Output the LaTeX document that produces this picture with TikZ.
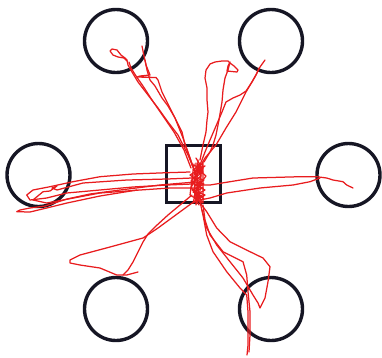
\documentclass[tikz,border=0pt]{standalone}
\usepackage{tikz}
\definecolor{ringcol}{RGB}{22,22,36}
\definecolor{trackred}{RGB}{232,28,30}
\tikzset{
  ring/.style={circle,draw=ringcol,line width=3.4pt,minimum size=63pt,inner sep=0pt},
  startbox/.style={rectangle,draw=ringcol,line width=3.2pt,minimum width=54pt,minimum height=57pt,inner sep=0pt},
  track/.style={draw=trackred,line width=1.25pt,line join=round,line cap=round}
}
\begin{document}
\begin{tikzpicture}[x=1pt,y=-1pt]
\useasboundingbox (0,0) rectangle (382,357);
% targets
\node[ring] (tl) at (116,41) {};
\node[ring] (tr) at (271,41) {};
\node[ring] (ml) at (38.5,175) {};
\node[ring] (mr) at (348.5,175) {};
\node[ring] (bl) at (116,309) {};
\node[ring] (br) at (271,309) {};
\node[startbox] (sq) at (193.5,174) {};
% tracks: top-left
\draw[track] (193,167) -- (188,155) -- (183,145) -- (178,135) -- (168,122) -- (158,108) -- (148,95) -- (138,82) -- (132,72) -- (128,65) -- (127,60) -- (125,58) -- (121,55) -- (117,50) -- (112,49) -- (110,51) -- (113,55) -- (118,57) -- (124,58) -- (127,61) -- (128,64);
\draw[track] (196,175) -- (190,158) -- (185,145) -- (182,132) -- (176,120) -- (172,112) -- (166,100) -- (162,92) -- (158,80) -- (156,77.5) -- (137,77) -- (140,76) -- (150,75) -- (146,65) -- (144,56) -- (142,46);
\draw[track] (194,170) -- (188,152) -- (183,138) -- (175,118) -- (168,106) -- (162,98) -- (155,86) -- (150,80) -- (147,70) -- (145,60);
\draw[track] (191,168) -- (184,150) -- (174,132) -- (163,116) -- (152,100) -- (143,86) -- (136,76) -- (131,68) -- (129,62);
% top-right
\draw[track] (195,178) -- (200,165) -- (205,152) -- (210,140) -- (216,126) -- (222,112) -- (226,102) -- (233,98) -- (240,95) -- (246,91) -- (252,82) -- (257,73) -- (260,67) -- (265,60);
\draw[track] (197,172) -- (205,158) -- (216,145) -- (226,128) -- (236,112) -- (246,92) -- (256,75) -- (259,68);
% top loop
\draw[track] (200,160) -- (203,145) -- (206,132) -- (207,120) -- (208,112) -- (207,100) -- (207,88) -- (205,78) -- (206,70) -- (210,64) -- (215,62) -- (222,61) -- (228,61) -- (230,63) -- (234,66) -- (238,70) -- (237,72) -- (227,71) -- (228,66) -- (230,62) -- (228,70) -- (225,78) -- (223,90) -- (222,102) -- (219,120) -- (216,135) -- (213,145) -- (210,152) -- (204,162);
% centre cluster
\draw[track] (196,158) -- (200,165) -- (193,170) -- (203,172) -- (194,178) -- (204,180) -- (195,185) -- (203,188) -- (193,192) -- (202,196) -- (196,200) -- (199,205) -- (194,196) -- (205,190) -- (192,183) -- (201,176) -- (197,168) -- (205,166) -- (190,175) -- (200,182) -- (196,192) -- (202,202);
\draw[track] (198,160) -- (197,180) -- (199,200) -- (201,180) -- (200,163) -- (194,175) -- (195,198);
\draw[track] (192,165) -- (203,168) -- (191,181) -- (204,184) -- (192,190) -- (205,195) -- (193,203) -- (197,188) -- (206,176) -- (199,170) -- (191,188) -- (204,199);
\draw[track] (196,163) -- (196,205) -- (203,162) -- (203,203) -- (190,195) -- (194,164);
% left
\draw[track] (190,172) -- (167,172.7) -- (133,174) -- (100,176.7) -- (73,181.7) -- (50,186.7) -- (33,190) -- (26.7,195) -- (30,200) -- (46.7,198) -- (66.7,193) -- (100,190) -- (133,187) -- (167,185) -- (192,184);
\draw[track] (192,178) -- (167,179) -- (127,180) -- (83,183) -- (57,190) -- (52,188) -- (57,186) -- (50,191) -- (43,191.7) -- (33,200) -- (46.7,203) -- (63,200) -- (100,193) -- (140,190) -- (170,188) -- (195,188);
\draw[track] (195,182) -- (160,185) -- (120,190) -- (90,194) -- (67,199) -- (45,206) -- (30,208) -- (20,210) -- (16.7,211.7) -- (30,212) -- (46.7,208) -- (67,203) -- (100,196) -- (137,190);
% right
\draw[track] (195,185) -- (210,185) -- (230,181.7) -- (253,178) -- (300,176.7) -- (316.7,176.7) -- (326.7,178) -- (333,180) -- (343,181.7) -- (346.7,185) -- (353,188);
\draw[track] (200,200) -- (210,198) -- (226.7,193) -- (260,188) -- (293,185) -- (310,181.7) -- (320,178);
% bottom-left
\draw[track] (199,198) -- (188,206) -- (173,217) -- (158,228) -- (143,238) -- (110,247) -- (80,255) -- (70,260) -- (70,263) -- (80,265) -- (100,268) -- (116.7,275) -- (126.7,275) -- (138,272);
\draw[track] (192,195) -- (180,205) -- (168,215) -- (156,226) -- (148,234) -- (143,242) -- (138,252) -- (133,262) -- (128,270) -- (123,275);
% bottom-right
\draw[track] (200,201.7) -- (203,215) -- (206.7,235) -- (213,251.7) -- (226.7,271.7) -- (240,288) -- (246.7,295) -- (248,311.7) -- (248,328) -- (248,345) -- (247,355);
\draw[track] (198,200) -- (206.7,211.7) -- (216.7,228) -- (230,241.7) -- (250,251.7) -- (263,258) -- (270,266.7) -- (268,281.7) -- (265,298) -- (260,308) -- (258,303) -- (253,295) -- (243,278) -- (230,261.7) -- (216.7,245) -- (206.7,228) -- (202,210);
\draw[track] (203,205) -- (205,220) -- (210,235) -- (223,251.7) -- (243,261.7) -- (246.7,275) -- (248,291.7) -- (250,311.7) -- (250,335) -- (249,352);
\end{tikzpicture}
\end{document}
